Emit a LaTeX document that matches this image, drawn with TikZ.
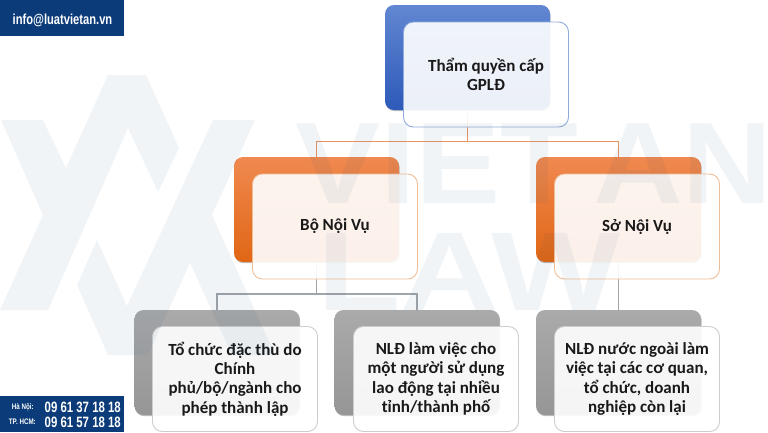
\documentclass[tikz,border=0pt]{standalone}
\usepackage{fontspec}
\setmainfont{Carlito}
\newfontfamily\wmfont{Liberation Sans}
\usetikzlibrary{shadows}
\definecolor{navy}{HTML}{0B3B78}
\definecolor{wmark}{HTML}{1F4E79}
\definecolor{blueT}{RGB}{98,135,210}
\definecolor{blueM}{RGB}{72,112,198}
\definecolor{blueB}{RGB}{45,90,185}
\definecolor{orT}{RGB}{240,137,80}
\definecolor{orM}{RGB}{248,122,40}
\definecolor{orB}{RGB}{224,102,20}
\definecolor{grT}{RGB}{170,170,170}
\definecolor{grM}{RGB}{165,165,165}
\definecolor{grB}{RGB}{150,150,150}
\definecolor{edgeB}{RGB}{143,170,220}
\definecolor{edgeO}{RGB}{240,190,150}
\definecolor{edgeG}{RGB}{205,205,205}
\definecolor{lineO}{RGB}{231,150,98}
\definecolor{lineG}{RGB}{160,165,170}
\tikzset{
  x=1pt,y=-1pt,
  backbox/.style={rounded corners=9pt,minimum width=165pt,minimum height=105pt,inner sep=0pt,
    drop shadow={shadow xshift=0.6pt,shadow yshift=-1.2pt,opacity=.35,fill=black!70}},
  backblue/.style={backbox,top color=blueT,middle color=blueM,bottom color=blueB},
  backorange/.style={backbox,top color=orT,middle color=orM,bottom color=orB},
  backgray/.style={backbox,top color=grT,middle color=grM,bottom color=grB},
  frontbox/.style={rounded corners=10pt,minimum width=165pt,minimum height=105pt,inner sep=2pt,
    fill=white,fill opacity=.91,text opacity=1,draw=#1,line width=.9pt,align=center,
    font=\fontsize{17}{19.3}\selectfont\bfseries,text=black!90},
  oline/.style={color=lineO,line width=1.4pt},
  gline/.style={color=lineG,line width=1.4pt},
  wm/.style={fill=wmark,fill opacity=.06,draw=none},
  wmtext/.style={text=wmark,text opacity=.06,inner sep=0pt,anchor=base west},
  band/.style={fill=navy,draw=none,minimum width=124pt,minimum height=36pt,inner sep=0pt},
  whitetxt/.style={text=white,inner sep=0pt},
}
\begin{document}
\begin{tikzpicture}
\useasboundingbox (0,0) rectangle (768,432);
\fill[white] (0,0) rectangle (768,432);
% back boxes
\node[backblue] (b0) at (467.5,57.5) {};
\node[backorange] (b1) at (316.5,209.5) {};
\node[backorange] (b2) at (618.5,209.5) {};
\node[backgray] (g1) at (217,362.5) {};
\node[backgray] (g2) at (417,362.5) {};
\node[backgray] (g3) at (618.5,362.5) {};
% connectors
\coordinate (j0) at (467.5,141.7);
\coordinate (j1) at (316.5,294);
\draw[oline] (b0.south) -- (j0);
\draw[oline] (b1.north) |- (j0);
\draw[oline] (b2.north) |- (j0);
\draw[gline] (b1.south) -- (j1);
\draw[gline] (g1.north) |- (j1);
\draw[gline] (g2.north) |- (j1);
\draw[gline] (b2.south) -- (g3.north);
% front boxes
\node[frontbox=edgeB] (f0) at (486,74.5) {Thẩm quyền cấp\\GPLĐ};
\node[frontbox=edgeO] (f1) at (335,226.5) {Bộ Nội Vụ};
\node[frontbox=edgeO] (f2) at (637,226.5) {Sở Nội Vụ};
\node[frontbox=edgeG] (f3) at (235,379) {Tổ chức đặc thù do\\Chính\\phủ/bộ/ngành cho\\phép thành lập};
\node[frontbox=edgeG] (f4) at (436,379) {NLĐ làm việc cho\\một người sử dụng\\lao động tại nhiều\\tỉnh/thành phố};
\node[frontbox=edgeG] (f5) at (637,379) {NLĐ nước ngoài làm\\việc tại các cơ quan,\\tổ chức, doanh\\nghiệp còn lại};
% watermark
\fill[wm] (128,128) -- (48,310) -- (0,310) -- (43,215) -- (1,120) -- (43,120) -- (66,168) -- (108,75) -- (146,75) -- (179,148) -- (158,192) -- cycle;
\fill[wm] (97,240) -- (127,306) -- (213,120) -- (255,120) -- (212,215) -- (275,355) -- (232,355) -- (190,263) -- (148,355) -- (108,355) -- (77,285) -- cycle;
\node[wmtext,font=\wmfont\bfseries\fontsize{116}{116}\selectfont] (wm1) at (295,203) {\scalebox{1.1}[1]{VIET}};
\node[wmtext,font=\wmfont\bfseries\fontsize{116}{116}\selectfont] (wm3) at (593,203) {\scalebox{1.07}[1]{AN}};
\node[wmtext,font=\wmfont\bfseries\fontsize{112}{112}\selectfont] (wm2) at (317,310) {\scalebox{1.22}[1]{LAW}};
% bands
\node[band,anchor=north west] (top) at (0,0) {};
\node[band,anchor=south west] (bot) at (0,432) {};
\node[whitetxt,anchor=center,font=\wmfont\bfseries\fontsize{14.5}{14.5}\selectfont] (mail) at (62.5,20) {\scalebox{.77}[1]{info@luatvietan.vn}};
\node[whitetxt,anchor=east,font=\wmfont\bfseries\fontsize{8}{8}\selectfont] (hn) at (34,407) {\scalebox{.78}[1]{Hà Nội:}};
\node[whitetxt,anchor=east,font=\wmfont\bfseries\fontsize{8}{8}\selectfont] (hcm) at (36,422) {\scalebox{.78}[1]{TP. HCM:}};
\node[whitetxt,anchor=east,font=\wmfont\bfseries\fontsize{15}{15}\selectfont] (p1) at (121,407) {\scalebox{.76}[1]{09 61 37 18 18}};
\node[whitetxt,anchor=east,font=\wmfont\bfseries\fontsize{15}{15}\selectfont] (p2) at (121,422) {\scalebox{.76}[1]{09 61 57 18 18}};
\end{tikzpicture}
\end{document}
